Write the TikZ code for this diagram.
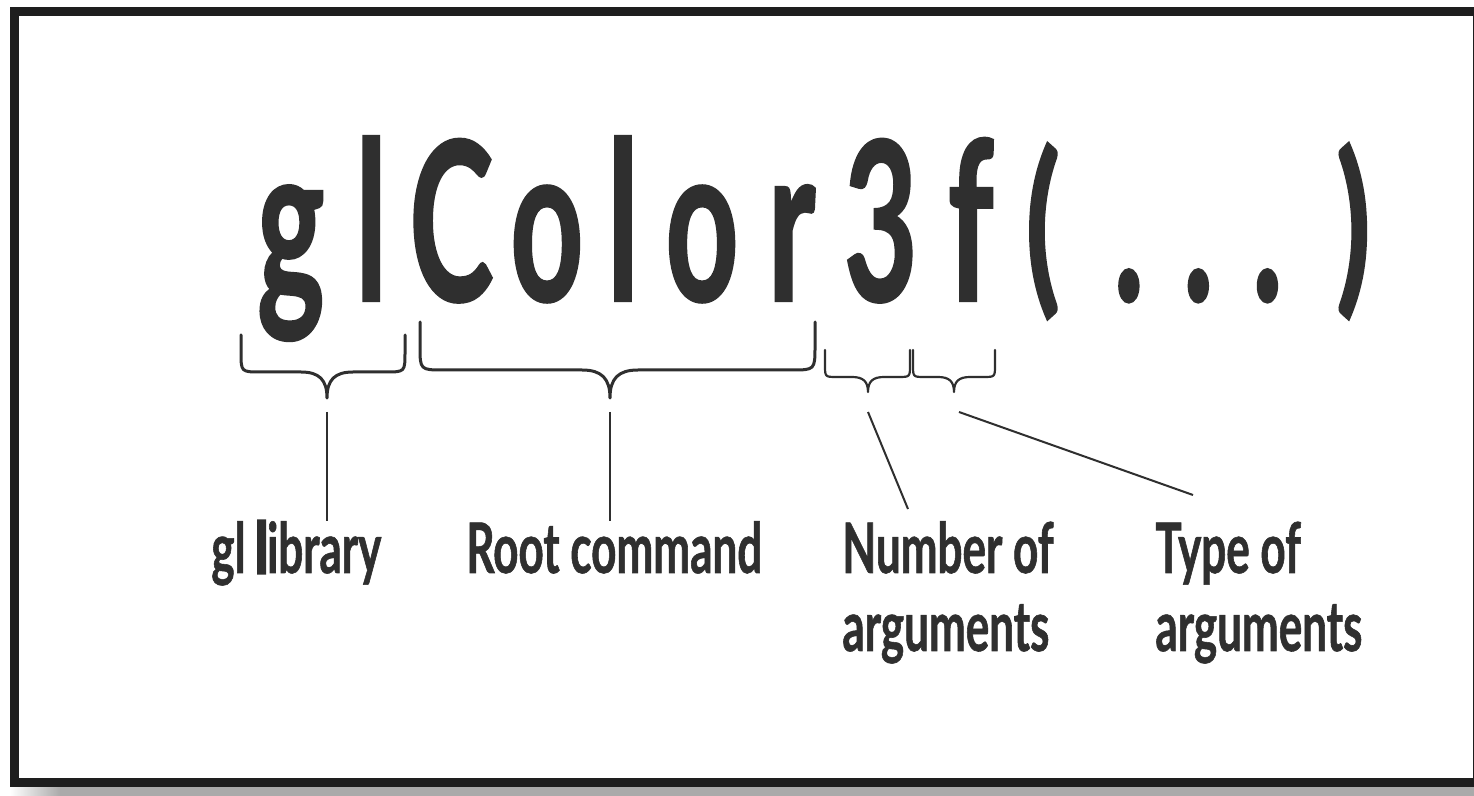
\documentclass[tikz,border=0pt]{standalone}
\usepackage{fontspec}
\newfontfamily\bigfont{Lato}[FakeStretch=0.57,FakeBold=1]
\newfontfamily\labfont{Lato}[FakeStretch=0.63,FakeBold=0.8]
\newfontfamily\heavyfont{Lato}[FakeStretch=0.63,FakeBold=5]
\definecolor{ink}{RGB}{47,47,47}
\definecolor{framec}{RGB}{30,30,30}
\definecolor{shadowc}{RGB}{170,170,170}
\newlength\pxu
\setlength\pxu{0.5pt}
\newcommand\gch[2]{\makebox[0pt][l]{\hspace*{#1\pxu}\makebox[0pt][c]{#2}}}
\newcommand\paren[1]{\raisebox{5.5pt}{\scalebox{1}[0.845]{#1}}}
\newcommand\twolines[2]{\vtop{\hbox{#1}\hbox{#2}}}
\tikzset{
  bigtext/.style={inner sep=0pt,anchor=base west,text=ink,font=\bigfont\bfseries\fontsize{111}{120}\selectfont},
  lab/.style={inner sep=0pt,anchor=base west,text=ink,font=\labfont\bfseries\fontsize{34.9}{39}\selectfont},
  bracebig/.style={draw=ink,line width=1.5pt,line cap=round,line join=round},
  bracesmall/.style={draw=ink,line width=1.1pt,line cap=round,line join=round},
  conn/.style={draw=ink,line width=1pt},
  framebox/.style={draw=framec,line width=4.5pt}
}
\newcommand\cbrace[9]{% style, x1, x2, ytop, yh, xm, ytip, r, s
  \draw[#1] ({#2},{#4}) -- ({#2},{#5-#8}) .. controls ({#2},{#5}) .. ({#2+#8},{#5})
    -- ({#6-#9},{#5}) .. controls ({#6-0.3*#9},{#5}) and ({#6},{#5+0.3*(#7-#5)}) .. ({#6},{#7})
    .. controls ({#6},{#5+0.3*(#7-#5)}) and ({#6+0.3*#9},{#5}) .. ({#6+#9},{#5})
    -- ({#3-#8},{#5}) .. controls ({#3},{#5}) .. ({#3},{#5-#8}) -- ({#3},{#4});}
\begin{document}
\begin{tikzpicture}[x=0.5pt,y=-0.5pt]
\useasboundingbox (0,0) rectangle (1474,796);
\clip (0,0) rectangle (1474,796);
% shadow and frame
\fill[shadowc] (60,787) rectangle (1474,796);
\shade[left color=white,right color=shadowc] (10,787) rectangle (60,796);
\fill[white] (14,11.5) rectangle (1477.5,782);
\draw[framebox] (14,11.5) rectangle (1477.5,782);
% big text
\node[bigtext] (cmd) at (0,301) {\gch{289.5}{g}\gch{370}{l}\gch{450}{C}\gch{545.5}{o}\gch{621.5}{l}\gch{700.5}{o}\gch{790}{r}\gch{879}{3}\gch{969}{f}\gch{1041.5}{\paren{(}}\gch{1127.5}{.}\gch{1197}{.}\gch{1266}{.}\gch{1352}{\paren{)}}};
% braces
\cbrace{bracebig}{241}{405}{335}{372}{327}{398}{20}{26}
\cbrace{bracebig}{420}{815}{322}{370}{610}{398}{24}{28}
\cbrace{bracesmall}{825}{910}{350}{377}{868}{392}{12}{16}
\cbrace{bracesmall}{913}{995}{350}{377}{954}{392}{12}{16}
% labels
\node[lab] (lib) at (211,573) {gl {\heavyfont\bfseries l}ibrary};
\node[lab] (root) at (466,573) {Root command};
\node[lab] (num) at (842,573) {\twolines{Number of}{arguments}};
\node[lab] (typ) at (1155,573) {\twolines{Type of}{arguments}};
% connectors
\coordinate (s1) at (327,412);
\coordinate (s2) at (610,412);
\coordinate (s3) at (868,412);
\coordinate (e3) at (908,509);
\coordinate (s4) at (959,412);
\coordinate (e4) at (1193,495);
\draw[conn] (s1) -- (s1 |- lib.north);
\draw[conn] (s2) -- (s2 |- root.north);
\draw[conn] (s3) -- (e3);
\draw[conn] (s4) -- (e4);
\end{tikzpicture}
\end{document}
